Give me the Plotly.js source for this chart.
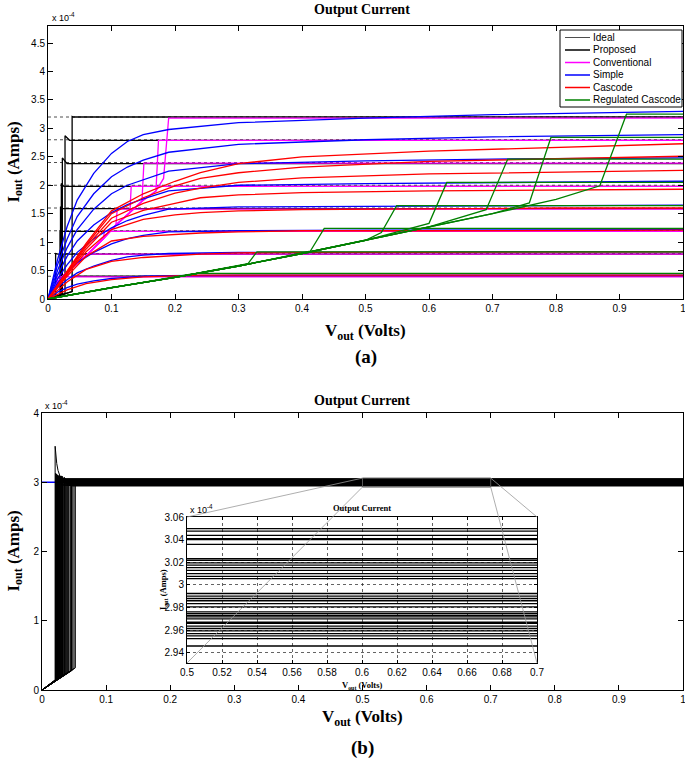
<!DOCTYPE html>
<html><head><meta charset="utf-8">
<script src="https://cdn.plot.ly/plotly-3.0.1.min.js"></script>
<style>html,body{margin:0;padding:0;background:#fff}#chart{width:685px;height:766px}</style>
</head><body><div id="chart"></div>
<script>
// ---------------- (a) data, current in units of 1e-4 A ----------------
const idealLevels = [0.4, 0.8, 1.2, 1.6, 2.0, 2.4, 2.8, 3.2];

const propLevel   = [0.40, 0.79, 1.19, 1.59, 1.98, 2.38, 2.79, 3.20];
const propJumpX   = [0.038, 0.012, 0.019, 0.0197, 0.021, 0.0226, 0.0268, 0.038];
const propJumpLow = [0.13, 0.05, 0.07, 0.07, 0.08, 0.08, 0.09, 0.13];
const propPeak    = [0.40, 0.80, 1.21, 1.62, 2.03, 2.48, 2.87, 3.21];
const propSettleX = [0.040, 0.016, 0.022, 0.023, 0.025, 0.030, 0.034, 0.040];

const convBaseX    = [0, 0.014, 0.03, 0.06, 0.087, 0.107, 0.129, 0.148, 0.17, 0.182];
const convBaseY    = [0, 0.28, 0.48, 0.76, 1.06, 1.30, 1.52, 1.72, 1.90, 2.00];
const convLevel    = [0.39, 0.79, 1.19, 1.58, 1.98, 2.39, 2.79, 3.18];
const convJumpX    = [0.014, 0.060, 0.087, 0.107, 0.129, 0.148, 0.170, 0.182];
const convJumpLow  = [0.30, 0.76, 1.06, 1.30, 1.52, 1.72, 1.90, 2.12];
const convJumpEndX = [0.016, 0.062, 0.089, 0.109, 0.131, 0.151, 0.174, 0.190];

const simpleX = [0, 0.015, 0.03, 0.046, 0.072, 0.1, 0.125, 0.15, 0.19, 0.3, 0.5, 0.7, 1.0];
const simpleCurves = [
  [0, 0.69, 1.27, 1.74, 2.21, 2.56, 2.77, 2.89, 2.98, 3.10, 3.18, 3.24, 3.30],
  [0, 0.60, 1.05, 1.45, 1.85, 2.15, 2.32, 2.44, 2.58, 2.72, 2.80, 2.85, 2.89],
  [0, 0.50, 0.90, 1.22, 1.58, 1.85, 2.00, 2.10, 2.25, 2.38, 2.43, 2.46, 2.48],
  [0, 0.42, 0.75, 1.02, 1.30, 1.52, 1.66, 1.76, 1.90, 2.00, 2.03, 2.05, 2.07],
  [0, 0.35, 0.60, 0.82, 1.06, 1.25, 1.38, 1.47, 1.58, 1.62, 1.63, 1.64, 1.65],
  [0, 0.28, 0.48, 0.64, 0.82, 0.97, 1.06, 1.12, 1.18, 1.20, 1.21, 1.21, 1.22],
  [0, 0.20, 0.34, 0.46, 0.58, 0.68, 0.74, 0.77, 0.80, 0.82, 0.82, 0.83, 0.83],
  [0, 0.12, 0.20, 0.26, 0.32, 0.36, 0.38, 0.40, 0.41, 0.42, 0.42, 0.42, 0.42]
];

const cascodeX = [0, 0.03, 0.06, 0.1, 0.15, 0.2, 0.24, 0.3, 0.4, 0.6, 0.8, 1.0];
const cascodeCurves = [
  [0, 0.50, 0.98, 1.55, 1.85, 2.07, 2.22, 2.38, 2.50, 2.60, 2.67, 2.73],
  [0, 0.48, 0.95, 1.50, 1.78, 1.99, 2.12, 2.22, 2.32, 2.42, 2.47, 2.51],
  [0, 0.47, 0.92, 1.42, 1.68, 1.86, 1.95, 2.05, 2.13, 2.20, 2.23, 2.26],
  [0, 0.45, 0.88, 1.35, 1.56, 1.68, 1.78, 1.83, 1.87, 1.90, 1.92, 1.93],
  [0, 0.43, 0.83, 1.22, 1.40, 1.48, 1.52, 1.55, 1.57, 1.59, 1.60, 1.60],
  [0, 0.40, 0.75, 1.02, 1.10, 1.13, 1.16, 1.18, 1.20, 1.20, 1.21, 1.21],
  [0, 0.30, 0.52, 0.66, 0.73, 0.76, 0.79, 0.81, 0.82, 0.82, 0.83, 0.83],
  [0, 0.16, 0.27, 0.34, 0.39, 0.41, 0.42, 0.42, 0.42, 0.42, 0.42, 0.42]
];

const regBaseX    = [0, 0.1, 0.2, 0.3, 0.4, 0.5, 0.6, 0.7, 0.8];
const regBaseY    = [0, 0.20, 0.38, 0.58, 0.80, 1.03, 1.27, 1.50, 1.75];
const regLevel    = [0.45, 0.83, 1.24, 1.64, 2.05, 2.46, 2.84, 3.25];
const regJumpX    = [0.22, 0.315, 0.413, 0.525, 0.60, 0.69, 0.758, 0.869];
const regJumpLow  = [0.43, 0.62, 0.84, 1.17, 1.33, 1.57, 1.69, 1.99];
const regJumpEndX = [0.235, 0.329, 0.435, 0.549, 0.628, 0.724, 0.792, 0.911];

// ---------------- (b) data ----------------
const bIdeal = 3.0;
const bLevel = [3.0497,3.0476,3.0438,3.0409,3.0400,3.0359,3.0232,3.0218,3.0194,3.0174,3.0153,3.0129,3.0100,3.0076,3.0056,
  2.9924,2.9900,2.9880,2.9860,2.9835,2.9806,2.9762,2.9747,2.9730,2.9718,2.9700,2.9670,2.9660,2.9635,2.9615,2.9594,2.9570,2.9550,2.9526,2.9460];
const bJumpX = [0.022,0.024,0.025,0.027,0.028,0.030,0.021,0.023,0.026,0.029,0.031,0.033,0.035,0.022,0.024,0.026,0.028,0.030,
  0.032,0.034,0.036,0.038,0.040,0.042,0.044,0.046,0.048,0.050,0.052,0.023,0.027,0.031,0.037,0.041,0.045];
const bJumpLow = [0.15,0.16,0.17,0.18,0.18,0.19,0.15,0.16,0.17,0.19,0.20,0.21,0.22,0.15,0.16,0.17,0.18,0.19,
  0.21,0.22,0.23,0.24,0.25,0.26,0.27,0.28,0.29,0.31,0.32,0.16,0.18,0.20,0.23,0.26,0.28];
const bPeak = [3.12,3.10,3.09,3.10,3.08,3.09,3.13,3.11,3.08,3.07,3.09,3.06,3.07,3.10,3.08,3.06,3.05,3.07,
  3.05,3.04,3.04,3.03,3.03,3.02,3.02,3.01,3.01,3.00,3.00,3.09,3.06,3.05,3.03,3.02,3.01];
const bSettleX = [0.030,0.032,0.033,0.034,0.035,0.036,0.030,0.031,0.033,0.035,0.036,0.038,0.039,0.030,0.031,0.032,0.034,0.035,
  0.037,0.038,0.040,0.041,0.043,0.045,0.047,0.049,0.051,0.052,0.054,0.031,0.033,0.036,0.040,0.044,0.047];
const spikeX = [0, 0.0205, 0.0205, 0.0215, 0.023, 0.025, 0.028, 0.032, 0.037, 0.045, 0.055, 1.0];
const spikeY = [0, 0.14, 3.52, 3.40, 3.27, 3.17, 3.09, 3.05, 3.02, 3.01, 3.004, 3.004];

// tick labels
const vTicks = [0, 0.1, 0.2, 0.3, 0.4, 0.5, 0.6, 0.7, 0.8, 0.9, 1];
const vTickText = ['0', '0.1', '0.2', '0.3', '0.4', '0.5', '0.6', '0.7', '0.8', '0.9', '1'];
const insetVTicks = [0.5, 0.52, 0.54, 0.56, 0.58, 0.6, 0.62, 0.64, 0.66, 0.68, 0.7];
const insetVTickText = ['0.5', '0.52', '0.54', '0.56', '0.58', '0.6', '0.62', '0.64', '0.66', '0.68', '0.7'];
const insetITicks = [2.94, 2.96, 2.98, 3.0, 3.02, 3.04, 3.06];
const insetITickText = ['2.94', '2.96', '2.98', '3', '3.02', '3.04', '3.06'];

// ---------------- layout geometry ----------------
const W = 685, H = 766;
const px = v => v / W, py = v => 1 - v / H;
const domA = {x: [px(48), px(683)], y: [py(299), py(26)]};
const domB = {x: [px(42), px(683)], y: [py(690), py(413)]};
const domI = {x: [px(187), px(537)], y: [py(663), py(517)]};
const rangeAx = [0, 1], rangeAy = [0, 4.8];
const rangeBx = [0, 1], rangeBy = [0, 4];
const rangeIx = [0.5, 0.7], rangeIy = [2.931, 3.06];

const colProp = '#000000', colIdeal = '#3a3a3a', colConv = '#ff00ff', colSimple = '#0000ff', colCasc = '#ff0000', colReg = '#008000';

const traces = [];
function addLine(x, y, color, width, xa, ya, dash, name) {
  traces.push({type: 'scatter', mode: 'lines', x: x, y: y, xaxis: xa, yaxis: ya, name: name || '',
    line: {color: color, width: width, dash: dash || 'solid'}, showlegend: false, hoverinfo: 'skip'});
}

idealLevels.forEach(L => addLine([0, 1], [L, L], colIdeal, 0.9, 'x', 'y', 'dot', 'Ideal'));
propLevel.forEach((L, i) => addLine([0, propJumpX[i], propJumpX[i], propSettleX[i], 1],
  [0, propJumpLow[i], propPeak[i], L, L], colProp, 1.3, 'x', 'y', 'solid', 'Proposed'));
convLevel.forEach((L, i) => {
  const xs = [], ys = [];
  convBaseX.forEach((v, k) => { if (v < convJumpX[i]) { xs.push(v); ys.push(convBaseY[k]); } });
  xs.push(convJumpX[i], convJumpEndX[i], 1); ys.push(convJumpLow[i], L, L);
  addLine(xs, ys, colConv, 1.3, 'x', 'y', 'solid', 'Conventional');
});
simpleCurves.forEach(c => addLine(simpleX, c, colSimple, 1.3, 'x', 'y', 'solid', 'Simple'));
cascodeCurves.forEach(c => addLine(cascodeX, c, colCasc, 1.3, 'x', 'y', 'solid', 'Cascode'));
regLevel.forEach((L, i) => {
  const xs = [], ys = [];
  regBaseX.forEach((v, k) => { if (v < regJumpX[i] - 0.02) { xs.push(v); ys.push(regBaseY[k]); } });
  xs.push(regJumpX[i], regJumpEndX[i], 1); ys.push(regJumpLow[i], L, L);
  addLine(xs, ys, colReg, 1.3, 'x', 'y', 'solid', 'Regulated Cascode');
});

addLine([0, 1], [bIdeal, bIdeal], '#0000ff', 1.5, 'x2', 'y2', 'solid', 'Ideal');
bLevel.forEach((L, i) => {
  const xs = [0, bJumpX[i], bJumpX[i], bSettleX[i], 1];
  const ys = [0, bJumpLow[i], bPeak[i], L, L];
  addLine(xs, ys, '#000', 1, 'x2', 'y2');
  addLine(xs, ys, '#000', 1.3, 'x3', 'y3');
});
addLine(spikeX, spikeY, '#000', 1, 'x2', 'y2');

// ---------------- axes ----------------
const tickFont = {family: 'Liberation Sans, Arial, sans-serif', size: 10, color: '#000'};
function ax(extra) {
  return Object.assign({showline: true, linecolor: '#000', linewidth: 1, mirror: 'ticks', ticks: 'inside',
    ticklen: 5, tickcolor: '#000', tickwidth: 1, showgrid: false, zeroline: false, tickfont: tickFont,
    ticklabeloverflow: 'allow', fixedrange: true}, extra);
}

const serif = 'Liberation Serif, Times New Roman, serif';
const sans = 'Liberation Sans, Arial, sans-serif';
function ann(text, x, y, size, fam, extra) {
  return Object.assign({text: text, x: x, y: y, xref: 'paper', yref: 'paper', showarrow: false,
    xanchor: 'center', yanchor: 'middle', font: {family: fam, size: size, color: '#000'}}, extra || {});
}
const cxA = (domA.x[0] + domA.x[1]) / 2, cxB = (domB.x[0] + domB.x[1]) / 2, cxI = (domI.x[0] + domI.x[1]) / 2;

const annotations = [
  ann('<b>Output Current</b>', px(362), py(9), 14, serif),
  ann('x 10<sup>-4</sup>', px(50), py(17), 9, sans, {xanchor: 'left'}),
  ann('<b>I<sub>out</sub> (Amps)</b>', px(15), (domA.y[0] + domA.y[1]) / 2, 17, serif, {textangle: -90}),
  ann('<b>V<sub>out</sub> (Volts)</b>', cxA, py(332), 17, serif),
  ann('<b>(a)</b>', cxA, py(357), 19, serif),
  ann('<b>Output Current</b>', px(362), py(400), 14, serif),
  ann('x 10<sup>-4</sup>', px(43), py(405), 9, sans, {xanchor: 'left'}),
  ann('<b>I<sub>out</sub> (Amps)</b>', px(15), (domB.y[0] + domB.y[1]) / 2, 17, serif, {textangle: -90}),
  ann('<b>V<sub>out</sub> (Volts)</b>', cxB, py(718), 17, serif),
  ann('<b>(b)</b>', cxB, py(748), 19, serif),
  ann('<b>Output Current</b>', cxI, py(508), 8.5, serif),
  ann('x 10<sup>-4</sup>', px(188), py(509), 9, sans, {xanchor: 'left'}),
  ann('<b>I<sub>out</sub> (Amps)</b>', px(163), (domI.y[0] + domI.y[1]) / 2, 8.5, serif, {textangle: -90}),
  ann('<b>V<sub>out</sub> (Volts)</b>', cxI, py(685), 8.5, serif)
];

const bx = v => domB.x[0] + (v - rangeBx[0]) / (rangeBx[1] - rangeBx[0]) * (domB.x[1] - domB.x[0]);
const by = v => domB.y[0] + (v - rangeBy[0]) / (rangeBy[1] - rangeBy[0]) * (domB.y[1] - domB.y[0]);
const shapes = [
  {type: 'rect', xref: 'x2', yref: 'y2', x0: rangeIx[0], x1: rangeIx[1], y0: rangeIy[0], y1: rangeIy[1], line: {color: '#555', width: 1}, layer: 'above'},
  {type: 'line', xref: 'paper', yref: 'paper', x0: bx(rangeIx[0]), y0: by(rangeIy[1]), x1: domI.x[0], y1: domI.y[1], line: {color: '#999', width: 0.8}, layer: 'above'},
  {type: 'line', xref: 'paper', yref: 'paper', x0: bx(rangeIx[0]), y0: by(rangeIy[0]), x1: domI.x[0], y1: domI.y[0], line: {color: '#999', width: 0.8}, layer: 'above'},
  {type: 'line', xref: 'paper', yref: 'paper', x0: bx(rangeIx[1]), y0: by(rangeIy[1]), x1: domI.x[1], y1: domI.y[1], line: {color: '#999', width: 0.8}, layer: 'above'},
  {type: 'line', xref: 'paper', yref: 'paper', x0: bx(rangeIx[1]), y0: by(rangeIy[0]), x1: domI.x[1], y1: domI.y[0], line: {color: '#999', width: 0.8}, layer: 'above'}
];

const legendNames  = ['Ideal', 'Proposed', 'Conventional', 'Simple', 'Cascode', 'Regulated Cascode'];
const legendColors = [colIdeal, colProp, colConv, colSimple, colCasc, colReg];
const legendWidths = [0.9, 1.5, 1.5, 1.5, 1.5, 1.5];
shapes.push({type: 'rect', xref: 'paper', yref: 'paper', x0: px(560), x1: px(682), y0: py(107), y1: py(30),
  fillcolor: '#fff', line: {color: '#000', width: 1}, layer: 'above'});
legendNames.forEach((n, i) => {
  const yy = py(37.5 + 12.5 * i);
  shapes.push({type: 'line', xref: 'paper', yref: 'paper', x0: px(565), x1: px(590), y0: yy, y1: yy,
    line: {color: legendColors[i], width: legendWidths[i]}, layer: 'above'});
  annotations.push(ann(n, px(591), yy, 10, sans, {xanchor: 'left'}));
});

const insetTickFont = {family: 'Liberation Sans, Arial, sans-serif', size: 10, color: '#000'};
const layout = {
  width: W, height: H, margin: {l: 0, r: 0, t: 0, b: 0}, showlegend: false,
  paper_bgcolor: '#fff', plot_bgcolor: '#fff',
  xaxis:  ax({domain: domA.x, range: rangeAx, tickmode: 'array', tickvals: vTicks, ticktext: vTickText, anchor: 'y'}),
  yaxis:  ax({domain: domA.y, range: rangeAy, tick0: 0, dtick: 0.5, anchor: 'x'}),
  xaxis2: ax({domain: domB.x, range: rangeBx, tickmode: 'array', tickvals: vTicks, ticktext: vTickText, anchor: 'y2'}),
  yaxis2: ax({domain: domB.y, range: rangeBy, tick0: 0, dtick: 1, anchor: 'x2'}),
  xaxis3: ax({domain: domI.x, range: rangeIx, tickmode: 'array', tickvals: insetVTicks, ticktext: insetVTickText,
    anchor: 'y3', ticklen: 3, tickfont: insetTickFont,
    showgrid: true, gridcolor: '#222', griddash: 'dot', gridwidth: 0.7}),
  yaxis3: ax({domain: domI.y, range: rangeIy, tickmode: 'array', tickvals: insetITicks, ticktext: insetITickText,
    anchor: 'x3', ticklen: 3, tickfont: insetTickFont,
    showgrid: true, gridcolor: '#222', griddash: 'dot', gridwidth: 0.7}),
  annotations: annotations,
  shapes: shapes
};

Plotly.newPlot('chart', traces, layout, {staticPlot: true, displayModeBar: false});
</script></body></html>
